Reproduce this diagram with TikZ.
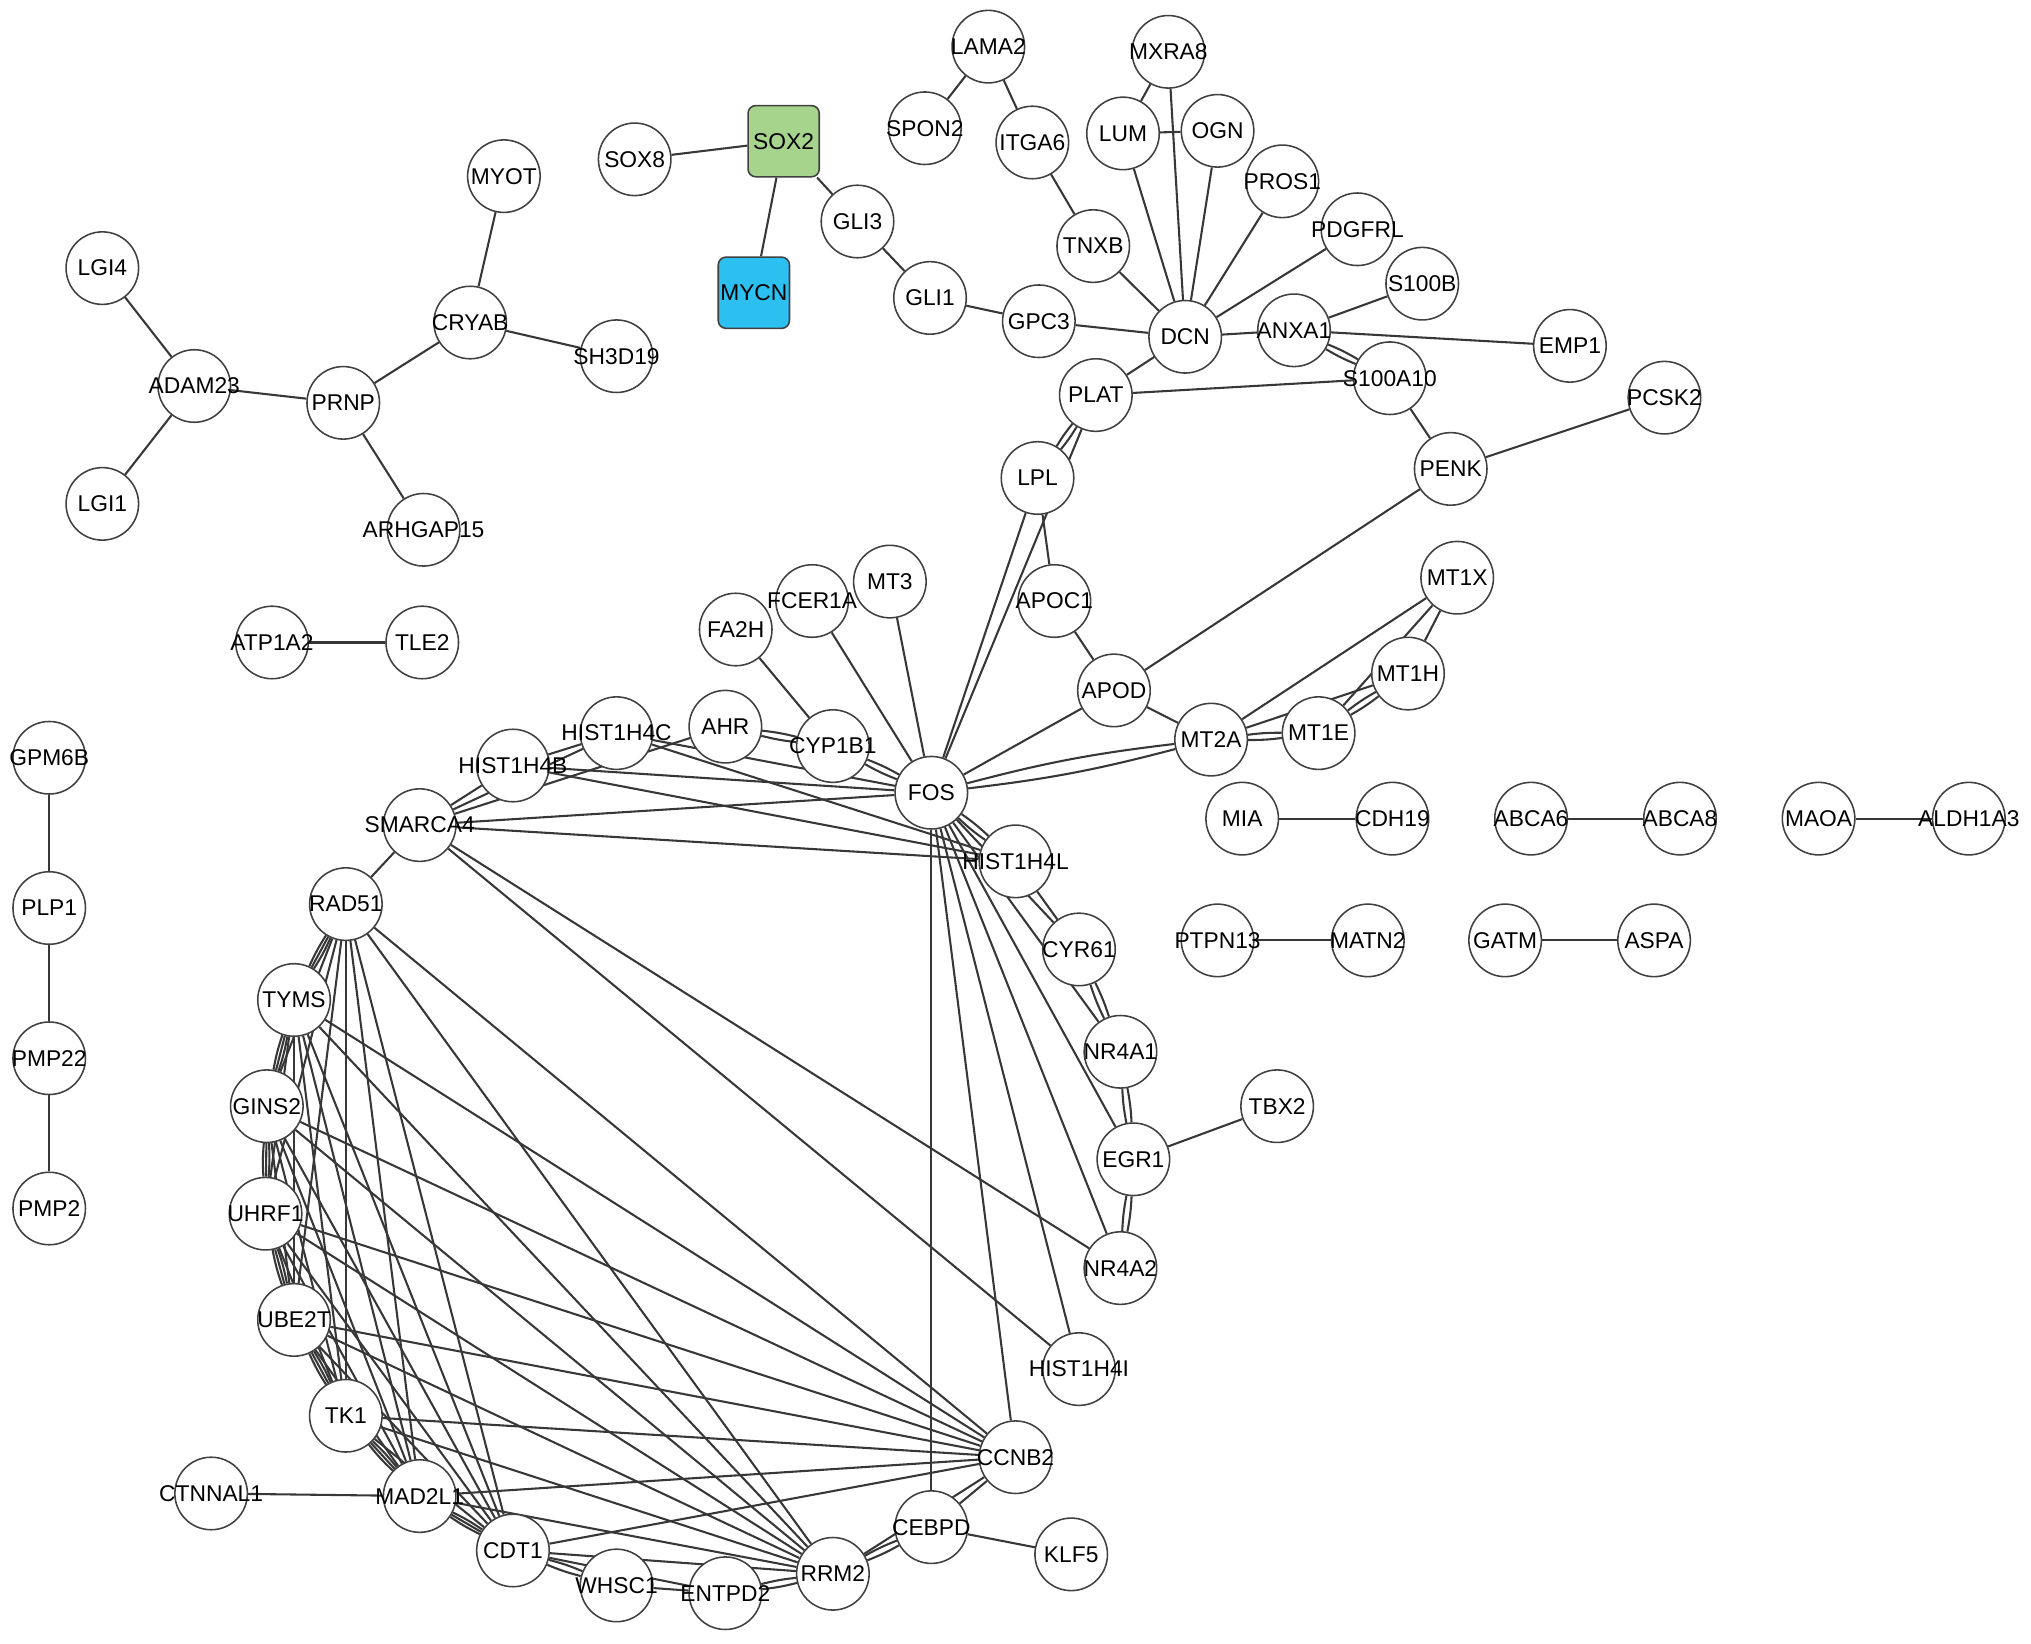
\documentclass[tikz,border=0pt]{standalone}
\usepackage{fontspec}
\setmainfont{Liberation Sans}
\usetikzlibrary{backgrounds}

\definecolor{soxgreen}{RGB}{166,212,140}
\definecolor{mycnblue}{RGB}{44,192,240}
\definecolor{edgegray}{RGB}{55,55,55}
\newcommand{\gn}[1]{\makebox[0pt]{#1}}

\tikzset{
  gene/.style={circle, draw=black!75, fill=white, line width=0.6pt, minimum size=28pt, inner sep=0pt, font=\fontsize{8.8}{10}\selectfont},
  tf/.style={rectangle, rounded corners=3pt, draw=black!75, line width=0.6pt, minimum size=27.5pt, inner sep=0pt, font=\fontsize{8.8}{10}\selectfont},
  edge/.style={draw=edgegray, line width=0.8pt},
}

\begin{document}
\begin{tikzpicture}[x=0.5pt,y=-0.5pt]
\useasboundingbox (0,0) rectangle (1568,1269);

% SOX2 / MYCN
\node[tf, fill=soxgreen] (SOX2) at (605,109) {SOX2};
\node[tf, fill=mycnblue] (MYCN) at (582,226) {MYCN};
\node[gene] (SOX8) at (490,123) {\gn{SOX8}};
\node[gene] (GLI3) at (662,171) {\gn{GLI3}};
\node[gene] (GLI1) at (718,230) {\gn{GLI1}};
\node[gene] (GPC3) at (802,248) {\gn{GPC3}};

% DCN module
\node[gene] (DCN) at (915,260) {\gn{DCN}};
\node[gene] (LAMA2) at (763,36) {\gn{LAMA2}};
\node[gene] (SPON2) at (714,99) {\gn{SPON2}};
\node[gene] (ITGA6) at (797,110) {\gn{ITGA6}};
\node[gene] (TNXB) at (844,190) {\gn{TNXB}};
\node[gene] (MXRA8) at (902,40) {\gn{MXRA8}};
\node[gene] (LUM) at (867,103) {\gn{LUM}};
\node[gene] (OGN) at (940,101) {\gn{OGN}};
\node[gene] (PROS1) at (990,140) {\gn{PROS1}};
\node[gene] (PDGFRL) at (1048,177) {\gn{PDGFRL}};
\node[gene] (S100B) at (1098,219) {\gn{S100B}};
\node[gene] (ANXA1) at (999,255) {\gn{ANXA1}};
\node[gene] (EMP1) at (1212,267) {\gn{EMP1}};
\node[gene] (S100A10) at (1073,292) {\gn{S100A10}};
\node[gene] (PLAT) at (846,305) {\gn{PLAT}};
\node[gene] (PCSK2) at (1285,307) {\gn{PCSK2}};
\node[gene] (PENK) at (1120,362) {\gn{PENK}};
\node[gene] (LPL) at (801,369) {\gn{LPL}};
\node[gene] (APOC1) at (814,464) {\gn{APOC1}};
\node[gene] (APOD) at (860,533) {\gn{APOD}};

% MT module
\node[gene] (MT1X) at (1125,446) {\gn{MT1X}};
\node[gene] (MT1H) at (1087,520) {\gn{MT1H}};
\node[gene] (MT1E) at (1018,566) {\gn{MT1E}};
\node[gene] (MT2A) at (935,571) {\gn{MT2A}};

% FOS ring
\node[gene] (MT3) at (687,449) {\gn{MT3}};
\node[gene] (FCER1A) at (627,464) {\gn{FCER1A}};
\node[gene] (FA2H) at (568,486) {\gn{FA2H}};
\node[gene] (FOS) at (719,612) {\gn{FOS}};
\node[gene] (CYP1B1) at (643,576) {\gn{CYP1B1}};
\node[gene] (AHR) at (560,561) {\gn{AHR}};
\node[gene] (HIST1H4C) at (476,566) {\gn{HIST1H4C}};
\node[gene] (HIST1H4B) at (396,591) {\gn{HIST1H4B}};
\node[gene] (SMARCA4) at (324,637) {\gn{SMARCA4}};
\node[gene] (RAD51) at (267,698) {\gn{RAD51}};
\node[gene] (TYMS) at (227,772) {\gn{TYMS}};
\node[gene] (GINS2) at (206,854) {\gn{GINS2}};
\node[gene] (UHRF1) at (205,937) {\gn{UHRF1}};
\node[gene] (UBE2T) at (227,1019) {\gn{UBE2T}};
\node[gene] (TK1) at (267,1093) {\gn{TK1}};
\node[gene] (MAD2L1) at (324,1155) {\gn{MAD2L1}};
\node[gene] (CTNNAL1) at (163,1153) {\gn{CTNNAL1}};
\node[gene] (CDT1) at (396,1197) {\gn{CDT1}};
\node[gene] (WHSC1) at (476,1224) {\gn{WHSC1}};
\node[gene] (ENTPD2) at (560,1230) {\gn{ENTPD2}};
\node[gene] (RRM2) at (643,1215) {\gn{RRM2}};
\node[gene] (CEBPD) at (719,1179) {\gn{CEBPD}};
\node[gene] (KLF5) at (827,1200) {\gn{KLF5}};
\node[gene] (CCNB2) at (784,1125) {\gn{CCNB2}};
\node[gene] (HIST1H4I) at (833,1057) {\gn{HIST1H4I}};
\node[gene] (NR4A2) at (865,979) {\gn{NR4A2}};
\node[gene] (EGR1) at (875,895) {\gn{EGR1}};
\node[gene] (TBX2) at (986,854) {\gn{TBX2}};
\node[gene] (NR4A1) at (865,812) {\gn{NR4A1}};
\node[gene] (CYR61) at (833,733) {\gn{CYR61}};
\node[gene] (HIST1H4L) at (784,665) {\gn{HIST1H4L}};

% pairs
\node[gene] (MIA) at (959,632) {\gn{MIA}};
\node[gene] (CDH19) at (1075,632) {\gn{CDH19}};
\node[gene] (ABCA6) at (1182,632) {\gn{ABCA6}};
\node[gene] (ABCA8) at (1297,632) {\gn{ABCA8}};
\node[gene] (MAOA) at (1404,632) {\gn{MAOA}};
\node[gene] (ALDH1A3) at (1520,632) {\gn{ALDH1A3}};
\node[gene] (PTPN13) at (940,726) {\gn{PTPN13}};
\node[gene] (MATN2) at (1056,726) {\gn{MATN2}};
\node[gene] (GATM) at (1162,726) {\gn{GATM}};
\node[gene] (ASPA) at (1277,726) {\gn{ASPA}};
\node[gene] (ATP1A2) at (210,496) {\gn{ATP1A2}};
\node[gene] (TLE2) at (326,496) {\gn{TLE2}};

% PRNP module
\node[gene] (MYOT) at (389,136) {\gn{MYOT}};
\node[gene] (CRYAB) at (363,249) {\gn{CRYAB}};
\node[gene] (SH3D19) at (476,275) {\gn{SH3D19}};
\node[gene] (LGI4) at (79,207) {\gn{LGI4}};
\node[gene] (ADAM23) at (150,298) {\gn{ADAM23}};
\node[gene] (PRNP) at (265,311) {\gn{PRNP}};
\node[gene] (LGI1) at (79,389) {\gn{LGI1}};
\node[gene] (ARHGAP15) at (327,409) {\gn{ARHGAP15}};

% myelin chain
\node[gene] (GPM6B) at (38,585) {\gn{GPM6B}};
\node[gene] (PLP1) at (38,701) {\gn{PLP1}};
\node[gene] (PMP22) at (38,817) {\gn{PMP22}};
\node[gene] (PMP2) at (38,933) {\gn{PMP2}};

\begin{scope}[on background layer]
% single edges
\foreach \a/\b in {SOX8/SOX2, SOX2/MYCN, SOX2/GLI3, GLI3/GLI1, GLI1/GPC3, GPC3/DCN,
    LAMA2/SPON2, LAMA2/ITGA6, ITGA6/TNXB, TNXB/DCN, MXRA8/LUM, MXRA8/DCN, LUM/OGN,
    LUM/DCN, OGN/DCN, PROS1/DCN, PDGFRL/DCN, DCN/ANXA1, DCN/PLAT, ANXA1/S100B,
    ANXA1/EMP1, PLAT/S100A10, S100A10/PENK, PENK/PCSK2, PENK/APOD, PLAT/FOS, LPL/FOS,
    LPL/APOC1, APOC1/APOD, APOD/FOS, APOD/MT2A, MT2A/MT1X, MT2A/MT1H, MT1X/MT1H,
    MT1X/MT1E, MT3/FOS, FCER1A/FOS, FA2H/CYP1B1, HIST1H4B/HIST1H4C, SMARCA4/HIST1H4B,
    SMARCA4/HIST1H4C, SMARCA4/AHR, HIST1H4C/FOS, HIST1H4C/HIST1H4L, HIST1H4B/FOS,
    HIST1H4B/HIST1H4L, SMARCA4/FOS, SMARCA4/HIST1H4L, SMARCA4/RAD51, SMARCA4/NR4A2,
    SMARCA4/HIST1H4I, HIST1H4L/CYR61, FOS/CYR61, FOS/NR4A1, FOS/EGR1, FOS/NR4A2,
    FOS/HIST1H4I, FOS/CCNB2, FOS/CEBPD, EGR1/TBX2, CCNB2/CEBPD, CEBPD/KLF5,
    CDT1/ENTPD2, WHSC1/ENTPD2, CTNNAL1/MAD2L1, MYOT/CRYAB, CRYAB/SH3D19, CRYAB/PRNP,
    PRNP/ADAM23, PRNP/ARHGAP15, ADAM23/LGI4, ADAM23/LGI1, ATP1A2/TLE2, GPM6B/PLP1,
    PLP1/PMP22, PMP22/PMP2, MIA/CDH19, ABCA6/ABCA8, MAOA/ALDH1A3, PTPN13/MATN2, GATM/ASPA}
  \draw[edge] (\a) -- (\b);
% double edges
\foreach \a/\b in {ANXA1/S100A10, PLAT/LPL, MT2A/FOS, MT2A/MT1E, MT1E/MT1H, AHR/CYP1B1,
    CYP1B1/FOS, FOS/HIST1H4L, CYR61/NR4A1, NR4A1/EGR1, EGR1/NR4A2, RRM2/CEBPD,
    CDT1/WHSC1, ENTPD2/RRM2, RAD51/TYMS, TYMS/GINS2, GINS2/UHRF1, UHRF1/UBE2T,
    UBE2T/TK1, TK1/MAD2L1, MAD2L1/CDT1}
  \draw[edge] (\a) to[bend left=4] (\b) (\a) to[bend right=4] (\b);
% proliferation clique
\foreach \a [count=\i] in {RAD51,TYMS,GINS2,UHRF1,UBE2T,TK1,MAD2L1,CDT1,RRM2,CCNB2} {
  \foreach \b [count=\j] in {RAD51,TYMS,GINS2,UHRF1,UBE2T,TK1,MAD2L1,CDT1,RRM2,CCNB2} {
    \ifnum\j>\i \draw[edge] (\a) -- (\b); \fi
  }
}
\end{scope}
\end{tikzpicture}
\end{document}
